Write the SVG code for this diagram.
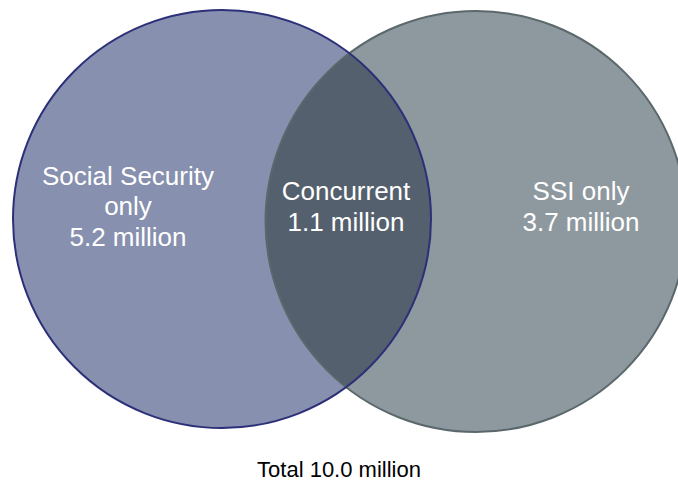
<svg xmlns="http://www.w3.org/2000/svg" width="678" height="489" viewBox="0 0 678 489">
<style>
.lbl{font-family:"Liberation Sans",Arial,sans-serif;font-size:26px;fill:#ffffff;text-anchor:middle}
.tot{font-family:"Liberation Sans",Arial,sans-serif;font-size:22px;fill:#000000;text-anchor:middle}
</style>
<defs>
<clipPath id="clipL"><circle cx="222" cy="219" r="209"/></clipPath>
</defs>
<rect width="678" height="489" fill="#ffffff"/>
<g id="social-security">
<circle cx="222" cy="219" r="209" fill="#8790ae"/>
</g>
<g id="ssi">
<circle cx="476" cy="221.5" r="210.5" fill="#8e999f"/>
</g>
<g id="concurrent">
<circle cx="476" cy="221.5" r="210.5" fill="#55606e" clip-path="url(#clipL)"/>
</g>
<g id="connectors">
<circle cx="476" cy="221.5" r="210.5" fill="none" stroke="#5a686c" stroke-width="2"/>
<circle cx="222" cy="219" r="209" fill="none" stroke="#2c3079" stroke-width="2"/>
</g>
<g id="labels">
<text class="lbl" x="128" y="185">Social Security</text>
<text class="lbl" x="128" y="215">only</text>
<text class="lbl" x="128" y="246">5.2 million</text>
<text class="lbl" x="346" y="200">Concurrent</text>
<text class="lbl" x="346" y="231">1.1 million</text>
<text class="lbl" x="581" y="200">SSI only</text>
<text class="lbl" x="581" y="231">3.7 million</text>
<text class="tot" x="339" y="477">Total 10.0 million</text>
</g>
</svg>
